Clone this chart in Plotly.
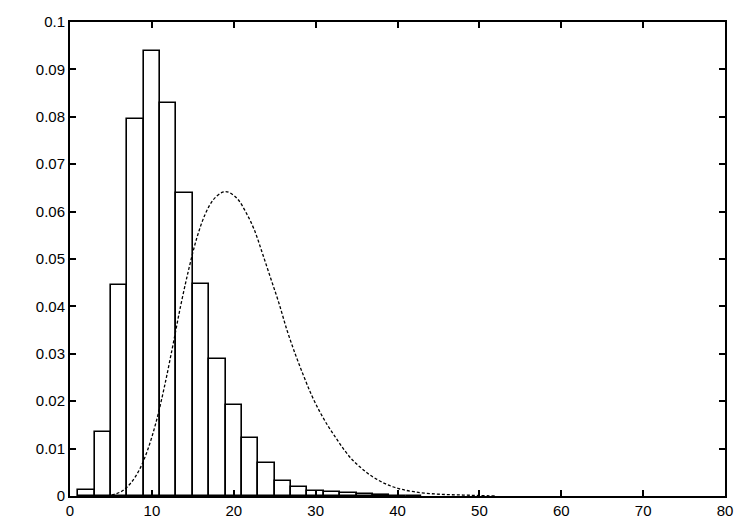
import plotly.graph_objects as go

# histogram bins (centres, width 2) and their heights
bin_centres = [2, 4, 6, 8, 10, 12, 14, 16, 18, 20, 22, 24, 26, 28, 30,
               32, 34, 36, 38, 40, 42]
bin_heights = [0.0012, 0.0134, 0.0446, 0.0795, 0.0939, 0.0829, 0.0640,
               0.0448, 0.0290, 0.0191, 0.0122, 0.0069, 0.0032, 0.0019,
               0.0011, 0.0009, 0.0006, 0.0004, 0.0002, 0.0001, 0.0001]

# dashed density curve
curve_x = [4.5, 5.5, 6.5, 7.5, 8.5, 9.5, 10.5, 11.5, 12.5, 13.5, 14.5, 15.5,
           16.5, 17.5, 18.5, 19.0, 19.5, 20.5, 21.5, 22.5, 23.5, 24.5, 25.5,
           26.5, 27.5, 28.5, 29.5, 30.5, 31.5, 32.5, 33.5, 34.5, 35.5, 36.5,
           37.5, 38.5, 39.5, 40.5, 42, 44, 46, 48, 50, 52]
curve_y = [0.0000, 0.0004, 0.0012, 0.0029, 0.0056, 0.0098, 0.0155, 0.0228,
           0.0312, 0.0400, 0.0478, 0.0545, 0.0594, 0.0625, 0.0640, 0.0642,
           0.0640, 0.0626, 0.0598, 0.0562, 0.0512, 0.0460, 0.0408, 0.0350,
           0.0300, 0.0255, 0.0213, 0.0178, 0.0148, 0.0122, 0.0097, 0.0076,
           0.0060, 0.0046, 0.0035, 0.0026, 0.0019, 0.0014, 0.0009, 0.0005,
           0.0003, 0.0002, 0.0001, 0.0000]

x_ticks = [0, 10, 20, 30, 40, 50, 60, 70, 80]
y_ticks = [0, 0.01, 0.02, 0.03, 0.04, 0.05, 0.06, 0.07, 0.08, 0.09, 0.1]
y_labels = ['0', '0.01', '0.02', '0.03', '0.04', '0.05', '0.06', '0.07',
            '0.08', '0.09', '0.1']

fig = go.Figure()

fig.add_trace(go.Bar(x=bin_centres, y=bin_heights, width=2,
                     marker=dict(color='white', line=dict(color='black', width=1.6)),
                     showlegend=False))

fig.add_trace(go.Scatter(x=curve_x, y=curve_y, mode='lines',
                         line=dict(color='black', width=1.3, dash='3px,2px', shape='spline'),
                         showlegend=False))

axis_style = dict(showline=True, linecolor='black', linewidth=2, mirror='allticks',
                  ticks='inside', ticklen=6, tickwidth=2, tickcolor='black',
                  showgrid=False, zeroline=False, ticklabeloverflow='allow')

fig.update_xaxes(range=[0, 80], tickvals=x_ticks, **axis_style)
fig.update_yaxes(range=[0, 0.1], tickvals=y_ticks, ticktext=y_labels, **axis_style)

# page body adds an offset, so margins are shifted to compensate
fig.update_layout(width=750, height=525,
                  margin=dict(l=62, r=33, t=5, b=37),
                  plot_bgcolor='white', paper_bgcolor='white',
                  font=dict(family='Liberation Sans, Arial', size=15, color='black'),
                  bargap=0)

fig.write_html("out.html")
